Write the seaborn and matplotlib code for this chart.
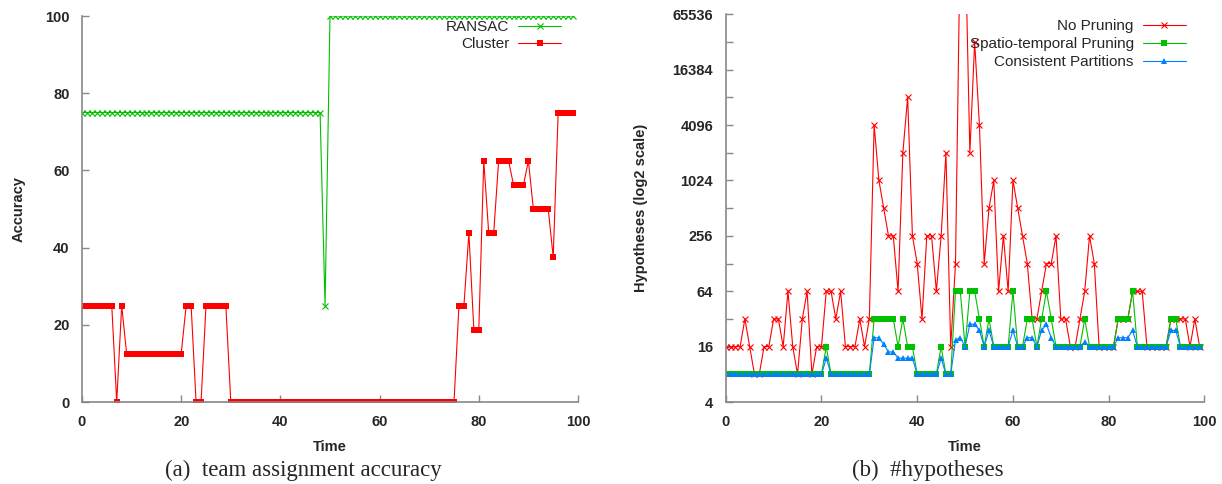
import numpy as np
import pandas as pd
import matplotlib
matplotlib.use("Agg")
import matplotlib.pyplot as plt
import seaborn as sns
from matplotlib.ticker import FixedLocator, NullFormatter

# ---- data ----
time = list(range(100))

ransac = [
    75, 75, 75, 75, 75, 75, 75, 75, 75, 75,
    75, 75, 75, 75, 75, 75, 75, 75, 75, 75,
    75, 75, 75, 75, 75, 75, 75, 75, 75, 75,
    75, 75, 75, 75, 75, 75, 75, 75, 75, 75,
    75, 75, 75, 75, 75, 75, 75, 75, 75, 25,
    100, 100, 100, 100, 100, 100, 100, 100, 100, 100,
    100, 100, 100, 100, 100, 100, 100, 100, 100, 100,
    100, 100, 100, 100, 100, 100, 100, 100, 100, 100,
    100, 100, 100, 100, 100, 100, 100, 100, 100, 100,
    100, 100, 100, 100, 100, 100, 100, 100, 100, 100,
]

cluster = [
    25, 25, 25, 25, 25, 25, 25, 0, 25, 12.5,
    12.5, 12.5, 12.5, 12.5, 12.5, 12.5, 12.5, 12.5, 12.5, 12.5,
    12.5, 25, 25, 0, 0, 25, 25, 25, 25, 25,
    0, 0, 0, 0, 0, 0, 0, 0, 0, 0,
    0, 0, 0, 0, 0, 0, 0, 0, 0, 0,
    0, 0, 0, 0, 0, 0, 0, 0, 0, 0,
    0, 0, 0, 0, 0, 0, 0, 0, 0, 0,
    0, 0, 0, 0, 0, 0, 25, 25, 43.75, 18.75,
    18.75, 62.5, 43.75, 43.75, 62.5, 62.5, 62.5, 56.25, 56.25, 56.25,
    62.5, 50, 50, 50, 50, 37.5, 75, 75, 75, 75,
]

no_pruning = [
    16, 16, 16, 16, 32, 16, 8, 8, 16, 16,
    32, 32, 16, 64, 16, 8, 32, 64, 8, 16,
    16, 64, 64, 32, 64, 16, 16, 16, 32, 16,
    32, 4096, 1024, 512, 256, 256, 64, 2048, 8192, 256,
    128, 32, 256, 256, 64, 256, 2048, 16, 128, 524288,
    524288, 2048, 32768, 4096, 128, 512, 1024, 64, 256, 64,
    1024, 512, 256, 128, 32, 32, 64, 128, 128, 256,
    32, 32, 16, 16, 32, 64, 256, 128, 16, 16,
    16, 16, 32, 32, 32, 64, 64, 64, 16, 16,
    16, 16, 16, 32, 32, 32, 32, 16, 32, 16,
]

spatio_temporal = [
    8, 8, 8, 8, 8, 8, 8, 8, 8, 8,
    8, 8, 8, 8, 8, 8, 8, 8, 8, 8,
    8, 16, 8, 8, 8, 8, 8, 8, 8, 8,
    8, 32, 32, 32, 32, 32, 16, 32, 16, 16,
    8, 8, 8, 8, 8, 16, 8, 8, 64, 64,
    16, 64, 64, 32, 16, 32, 16, 16, 16, 16,
    64, 16, 16, 32, 32, 16, 32, 64, 32, 16,
    16, 16, 16, 16, 16, 32, 16, 16, 16, 16,
    16, 16, 32, 32, 32, 64, 16, 16, 16, 16,
    16, 16, 16, 32, 32, 16, 16, 16, 16, 16,
]

consistent = [
    8, 8, 8, 8, 8, 8, 8, 8, 8, 8,
    8, 8, 8, 8, 8, 8, 8, 8, 8, 8,
    8, 12, 8, 8, 8, 8, 8, 8, 8, 8,
    8, 20, 20, 17, 14, 14, 12, 12, 12, 12,
    8, 8, 8, 8, 8, 12, 8, 8, 19, 20,
    16, 28, 28, 24, 16, 24, 16, 16, 16, 16,
    24, 16, 16, 20, 20, 16, 24, 28, 20, 16,
    16, 16, 16, 16, 16, 18, 16, 16, 16, 16,
    16, 16, 20, 20, 20, 24, 16, 16, 16, 16,
    16, 16, 16, 24, 24, 16, 16, 16, 16, 16,
]

x_ticks = [0, 20, 40, 60, 80, 100]
acc_ticks = [0, 20, 40, 60, 80, 100]
hyp_ticks = [4, 16, 64, 256, 1024, 4096, 16384, 65536]
hyp_minor = [8, 32, 128, 512, 2048, 8192, 32768]

RED = "#ff0000"
GREEN = "#00c000"
BLUE = "#0080ff"
SPINE = "#888888"

sns.set_style("ticks")
plt.rcParams["font.family"] = ["Liberation Sans Narrow", "Liberation Sans", "DejaVu Sans"]

df_a = pd.DataFrame({"Time": time, "RANSAC": ransac, "Cluster": cluster})
df_b = pd.DataFrame({"Time": time, "No Pruning": no_pruning,
                     "Spatio-temporal Pruning": spatio_temporal,
                     "Consistent Partitions": consistent})

fig = plt.figure(figsize=(12.22, 4.84), dpi=100)
ax1 = fig.add_axes([0.0671, 0.1694, 0.4059, 0.7975])
ax2 = fig.add_axes([0.5939, 0.1694, 0.3917, 0.801])

# (a) accuracy
sns.lineplot(data=df_a, x="Time", y="RANSAC", ax=ax1, color=GREEN, lw=0.8,
             marker="x", ms=4, mec=GREEN, mew=0.8, label="RANSAC")
sns.lineplot(data=df_a, x="Time", y="Cluster", ax=ax1, color=RED, lw=0.8,
             marker="s", ms=4.5, mec=RED, mew=0, label="Cluster")
ax1.set_xlim(0, 100)
ax1.set_ylim(0, 100)
ax1.set_xticks(x_ticks)
ax1.set_yticks(acc_ticks)
ax1.set_ylabel("Accuracy", fontsize=10.5, fontweight="bold", labelpad=14)

# (b) hypotheses
sns.lineplot(data=df_b, x="Time", y="No Pruning", ax=ax2, color=RED, lw=0.8,
             marker="x", ms=5, mec=RED, mew=0.8, label="No Pruning")
sns.lineplot(data=df_b, x="Time", y="Spatio-temporal Pruning", ax=ax2, color=GREEN, lw=0.8,
             marker="s", ms=4.5, mec=GREEN, mew=0, label="Spatio-temporal Pruning")
sns.lineplot(data=df_b, x="Time", y="Consistent Partitions", ax=ax2, color=BLUE, lw=0.8,
             marker="^", ms=4.5, mec=BLUE, mew=0, label="Consistent Partitions")
ax2.set_yscale("log", base=2)
ax2.set_xlim(0, 100)
ax2.set_ylim(4, 65536)
ax2.set_xticks(x_ticks)
ax2.set_yticks(hyp_ticks)
ax2.set_yticklabels([str(v) for v in hyp_ticks])
ax2.yaxis.set_minor_locator(FixedLocator(hyp_minor))
ax2.yaxis.set_minor_formatter(NullFormatter())
ax2.set_ylabel("Hypotheses (log2 scale)", fontsize=10.5, fontweight="bold", labelpad=18)

for ax in (ax1, ax2):
    ax.set_xlabel("Time", fontsize=10.5, fontweight="bold", labelpad=8)
    ax.tick_params(which="both", direction="in", length=5, width=1, color=SPINE,
                   labelsize=10.5)
    ax.tick_params(axis="x", pad=9)
    ax.tick_params(axis="y", pad=9)
    for lab in ax.get_xticklabels() + ax.get_yticklabels():
        lab.set_fontweight("bold")
    for s in ("top", "right"):
        ax.spines[s].set_visible(False)
    for s in ("left", "bottom"):
        ax.spines[s].set_color(SPINE)
        ax.spines[s].set_linewidth(1.2)

leg1 = ax1.legend(loc="upper right", bbox_to_anchor=(0.966, 0.989), frameon=False,
                  markerfirst=False, handlelength=2.8, handletextpad=0.6,
                  labelspacing=0.2, borderpad=0, borderaxespad=0,
                  prop={"family": "Liberation Sans", "size": 11})
leg2 = ax2.legend(loc="upper right", bbox_to_anchor=(0.961, 0.987), frameon=False,
                  markerfirst=False, handlelength=2.8, handletextpad=0.6,
                  labelspacing=0.25, borderpad=0, borderaxespad=0,
                  prop={"family": "Liberation Sans", "size": 11})

fig.text(0.248, 0.016, "(a)  team assignment accuracy", ha="center", va="baseline",
         family="Liberation Serif", fontsize=16.5)
fig.text(0.759, 0.016, "(b)  #hypotheses", ha="center", va="baseline",
         family="Liberation Serif", fontsize=16.5)

fig.savefig("out.png", dpi=100)
